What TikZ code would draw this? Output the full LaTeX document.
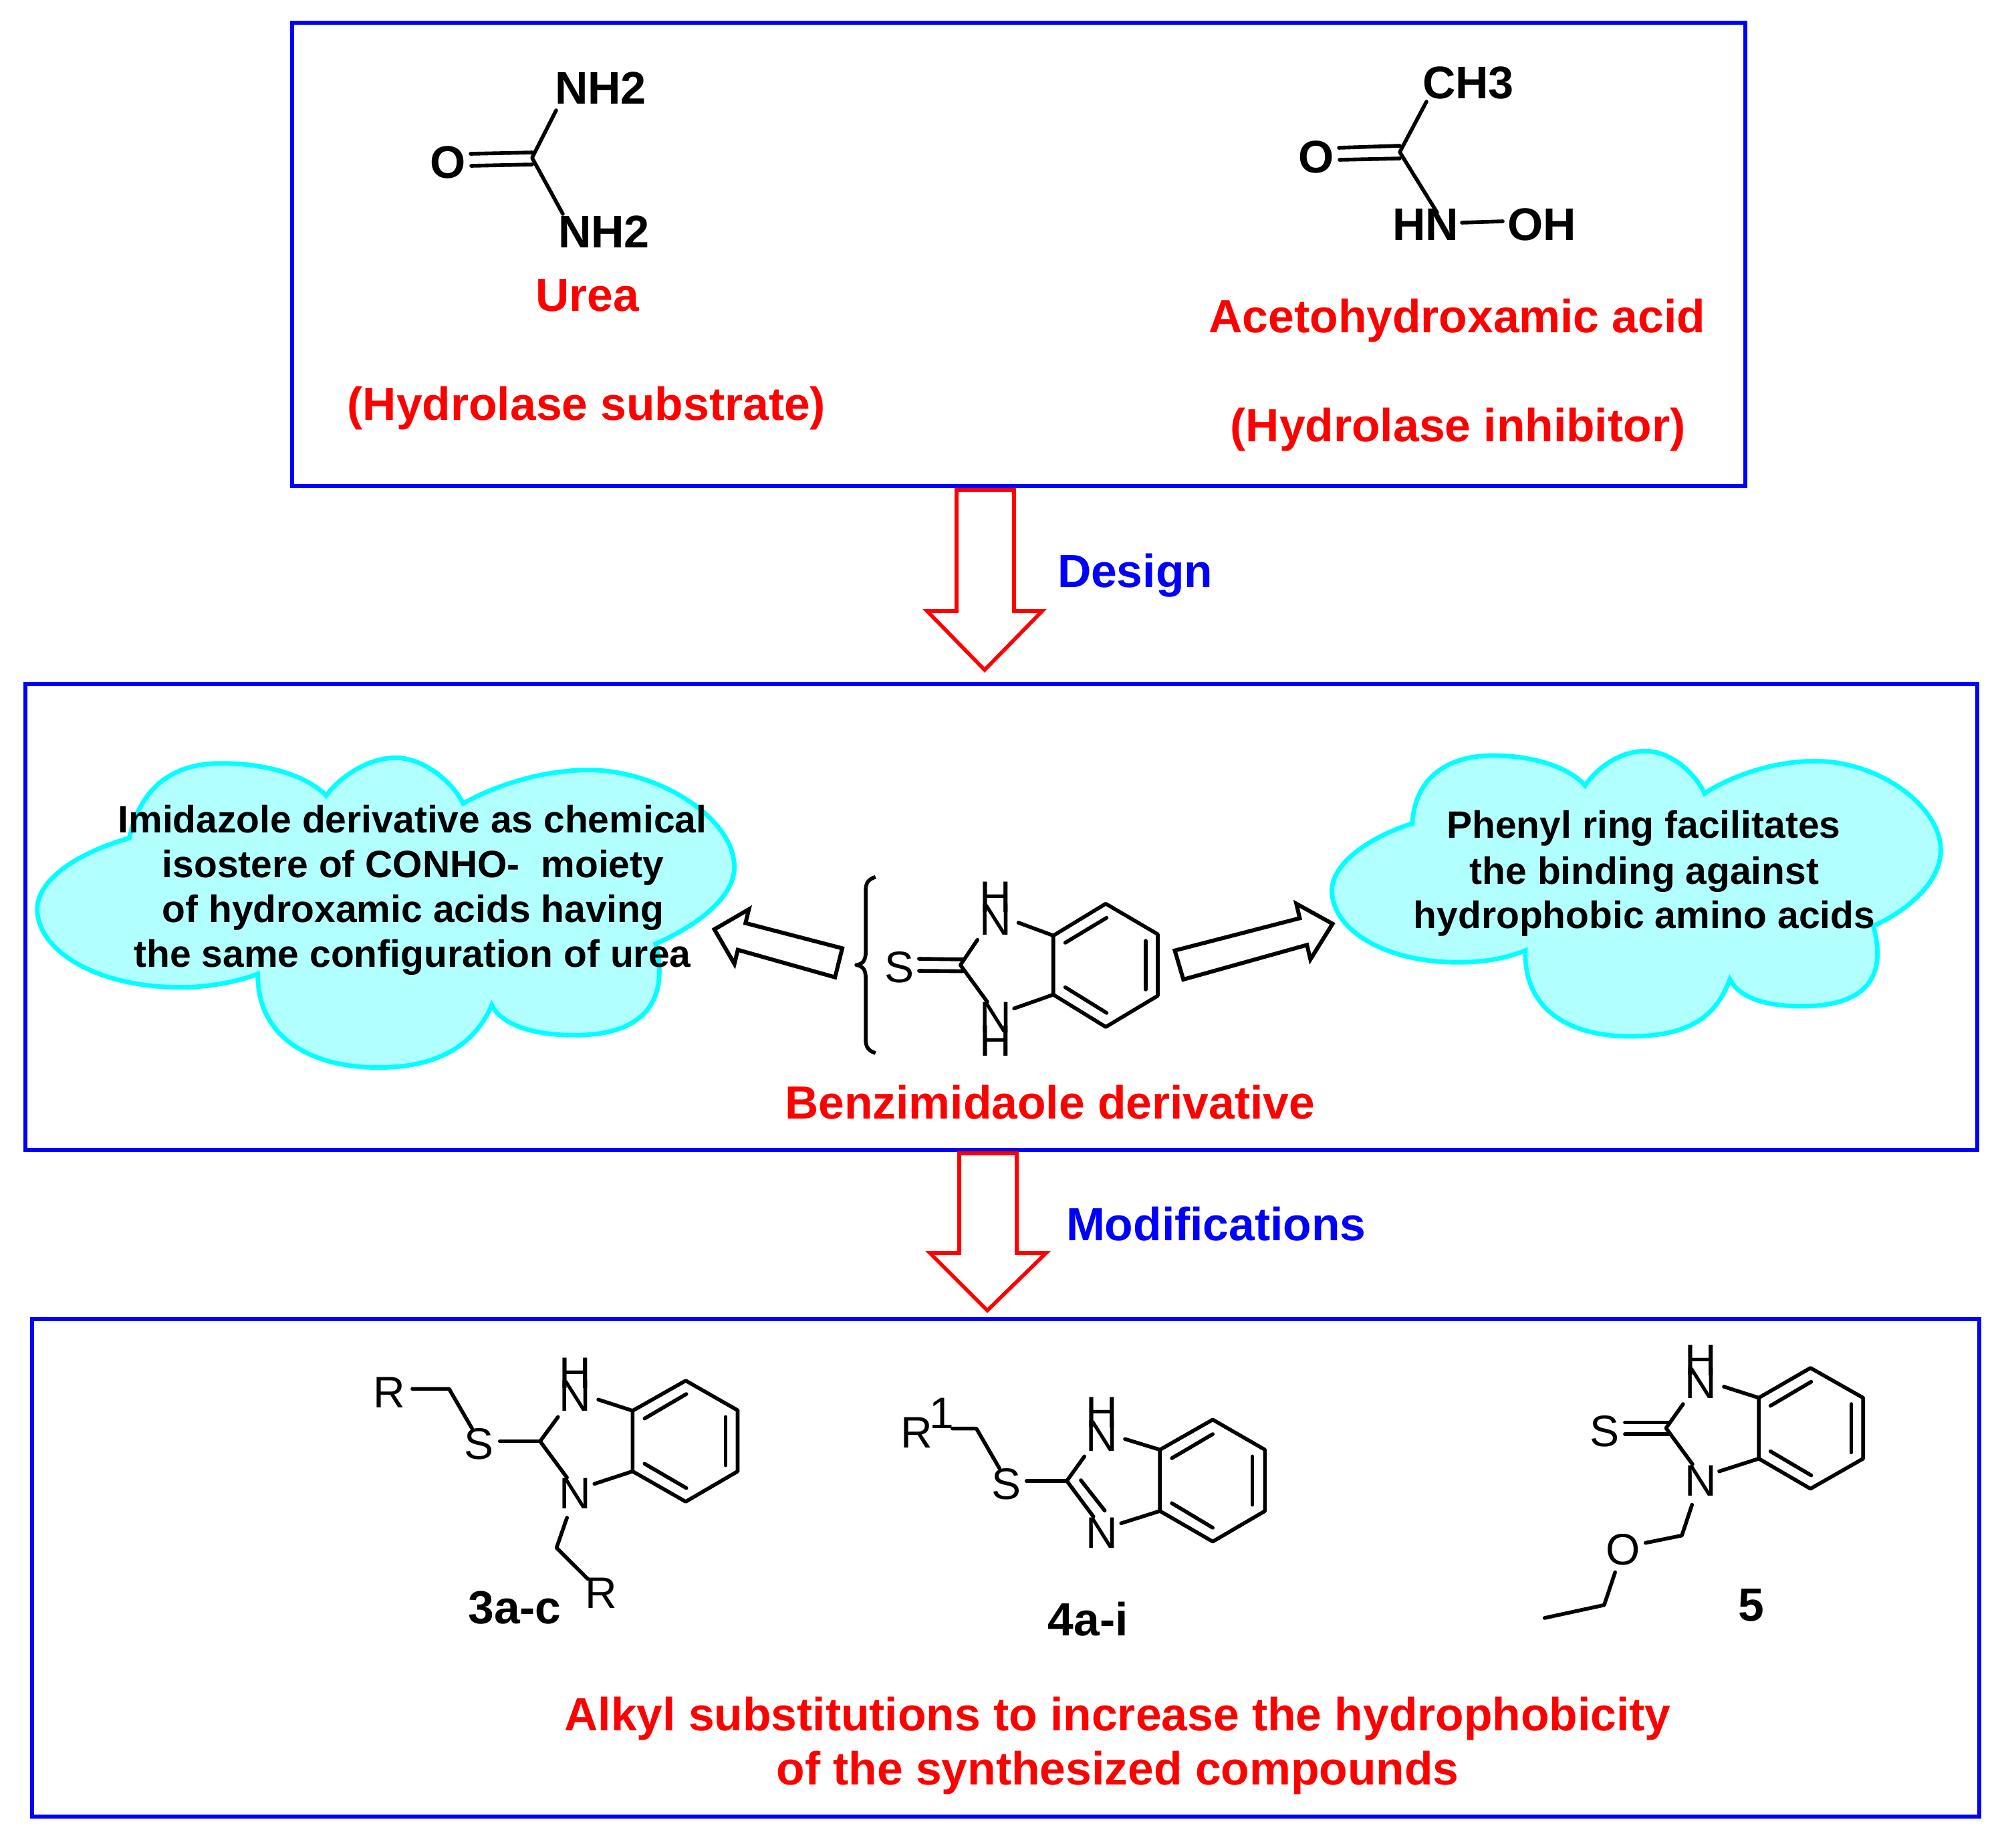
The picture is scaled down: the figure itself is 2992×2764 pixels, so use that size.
\documentclass[tikz,border=0pt]{standalone}
\usepackage{fontspec}
\setmainfont{Liberation Sans}
\definecolor{boxblue}{RGB}{0,0,255}
\definecolor{cloudfill}{RGB}{178,255,255}
\definecolor{cloudline}{RGB}{0,255,255}
\tikzset{
  box/.style={draw=boxblue,line width=1.5pt,inner sep=0pt,outer sep=0pt},
  bigarrow/.style={draw=red,fill=white,line width=1.4pt,line join=miter},
  hollow/.style={draw=black,fill=white,line width=1.5pt,line join=miter},
  cloud/.style={draw=cloudline,fill=cloudfill,line width=1.7pt,line join=miter},
  bond/.style={draw=black,line width=1.4pt,line cap=round,line join=round},
  atom/.style={inner sep=0pt,outer sep=0pt,anchor=base,font=\fontsize{16.5}{18}\selectfont},
  batom/.style={inner sep=0pt,outer sep=0pt,anchor=base west,font=\fontsize{17.1}{20}\selectfont\bfseries},
  big/.style={inner sep=0pt,outer sep=0pt,anchor=base,font=\fontsize{17.4}{20}\selectfont\bfseries},
  redt/.style={big,text=red},
  bluet/.style={inner sep=0pt,outer sep=0pt,anchor=base west,font=\fontsize{17.4}{20}\selectfont\bfseries,text=blue},
  cloudt/.style={inner sep=0pt,outer sep=0pt,anchor=base,font=\fontsize{14.25}{16}\selectfont\bfseries},
}
\begin{document}
\begin{tikzpicture}[x=0.25pt,y=-0.25pt]
\useasboundingbox (0,0) rectangle (2992,2764);
% boxes
\node[box,minimum width=543.5pt,minimum height=173.25pt] (b1) at (1524,380.5) {};
\node[box,minimum width=730pt,minimum height=174.25pt] (b2) at (1498,1371.5) {};
\node[box,minimum width=728.25pt,minimum height=186pt] (b3) at (1504.5,2345) {};
% red arrows
\draw[bigarrow] (1431,733) -- (1517,733) -- (1517,914) -- (1559,914) -- (1473,1002) -- (1387,914) -- (1431,914) -- cycle;
\draw[bigarrow] (1435,1725) -- (1521,1725) -- (1521,1874) -- (1565,1874) -- (1477,1960) -- (1391,1874) -- (1435,1874) -- cycle;
\node[bluet] (design) at (1582,878) {Design};
\node[bluet] (modif) at (1595,1855) {Modifications};
% urea
\path coordinate (uc) at (796,236) coordinate (un1) at (832,165) coordinate (un2) at (842,320)
  coordinate (uo1) at (704,230) coordinate (uo1c) at (796,228) coordinate (uo2) at (705,248) coordinate (uo2c) at (796,246);
\draw[bond] (un1) -- (uc) -- (un2);
\draw[bond] (uo1) -- (uo1c);
\draw[bond] (uo2) -- (uo2c);
\node[batom] (unh2a) at (830,155) {NH2};
\node[batom] (unh2b) at (835,370) {NH2};
\node[batom] (uo) at (643,266) {O};
\node[redt] (urea) at (879,465) {Urea};
\node[redt] (ureab) at (877.5,628) {(Hydrolase substrate)};
% acetohydroxamic acid
\path coordinate (ac) at (2094,227.5) coordinate (ach) at (2134,152) coordinate (an) at (2150,318)
  coordinate (ao1) at (2003,221) coordinate (ao1c) at (2094,218) coordinate (ao2) at (2004,239) coordinate (ao2c) at (2094,237)
  coordinate (ano) at (2187,333) coordinate (aon) at (2248,331);
\draw[bond] (ach) -- (ac) -- (an);
\draw[bond] (ao1) -- (ao1c);
\draw[bond] (ao2) -- (ao2c);
\draw[bond] (ano) -- (aon);
\node[batom] (ach3) at (2128,147) {CH3};
\node[batom] (ao) at (1942,258) {O};
\node[batom] (ahn) at (2083,359) {HN};
\node[batom] (aoh) at (2255,359) {OH};
\node[redt] (aha) at (2180,497) {Acetohydroxamic acid};
\node[redt] (ahb) at (2181,660) {(Hydrolase inhibitor)};
% left cloud
\begin{scope}[shift={(20,1100)},xscale=0.7143,yscale=0.3333]
\draw[cloud] (243,460) .. controls (265,240) and (330,125) .. (435,125)
 .. controls (540,125) and (620,190) .. (655,270)
 .. controls (690,170) and (750,100) .. (800,100)
 .. controls (860,100) and (920,210) .. (942,305)
 .. controls (1000,235) and (1100,155) .. (1205,155)
 .. controls (1350,155) and (1510,370) .. (1510,590)
 .. controls (1510,720) and (1440,845) .. (1345,935)
 .. controls (1365,1100) and (1360,1345) .. (1175,1345)
 .. controls (1080,1345) and (1020,1290) .. (1002,1210)
 .. controls (970,1370) and (900,1490) .. (765,1490)
 .. controls (620,1490) and (510,1350) .. (512,1070)
 .. controls (470,1105) and (410,1130) .. (350,1130)
 .. controls (170,1130) and (50,960) .. (50,780)
 .. controls (50,650) and (130,530) .. (243,460) -- cycle;
\end{scope}
\node[cloudt] (cl1) at (617,1245) {Imidazole derivative as chemical};
\node[cloudt] (cl2) at (618,1312) {isostere of CONHO-~~moiety};
\node[cloudt] (cl3) at (618,1379) {of hydroxamic acids having};
\node[cloudt] (cl4) at (617,1446) {the same configuration of urea};
% right cloud
\begin{scope}[shift={(1960,1100)},xscale=0.6506,yscale=0.3333]
\draw[cloud] (235,395) .. controls (240,200) and (310,90) .. (420,90)
 .. controls (520,90) and (600,150) .. (632,225)
 .. controls (665,130) and (720,70) .. (770,70)
 .. controls (830,70) and (885,170) .. (907,260)
 .. controls (960,190) and (1060,115) .. (1160,115)
 .. controls (1310,115) and (1450,320) .. (1450,515)
 .. controls (1450,640) and (1390,770) .. (1295,855)
 .. controls (1315,1000) and (1320,1215) .. (1130,1215)
 .. controls (1040,1215) and (985,1170) .. (965,1095)
 .. controls (935,1250) and (880,1350) .. (735,1350)
 .. controls (590,1350) and (490,1220) .. (495,965)
 .. controls (450,1000) and (400,1018) .. (340,1018)
 .. controls (170,1018) and (50,870) .. (50,695)
 .. controls (50,580) and (130,460) .. (235,395) -- cycle;
\end{scope}
\node[cloudt] (cr1) at (2459,1253) {Phenyl ring facilitates};
\node[cloudt] (cr2) at (2460,1322) {the binding against};
\node[cloudt] (cr3) at (2460,1388) {hydrophobic amino acids};
% central molecule
\begin{scope}[shift={(1040,1260)},xscale=0.6378,yscale=0.3333]
\draw[hollow] (345,475) -- (118,362) -- (126,300) -- (45,390) -- (92,545) -- (100,482) -- (328,605) -- cycle;
\draw[hollow] (1125,485) -- (1418,340) -- (1410,275) -- (1495,365) -- (1443,525) -- (1435,460) -- (1145,615) -- cycle;
\draw[bond,line cap=butt] (423,155) .. controls (405,165) and (400,185) .. (400,215) -- (400,490)
  .. controls (400,525) and (395,545) .. (378,550) .. controls (395,555) and (400,575) .. (400,610)
  -- (400,885) .. controls (400,915) and (405,935) .. (423,945);
\path coordinate (a1) at (840,418) coordinate (a2) at (963,275) coordinate (a3) at (1085,412)
  coordinate (a4) at (1085,688) coordinate (a5) at (963,828) coordinate (a6) at (840,683)
  coordinate (ai1) at (868,450) coordinate (ai2) at (965,338) coordinate (ai3) at (1057,442)
  coordinate (ai4) at (1057,660) coordinate (ai5) at (868,650) coordinate (ai6) at (965,765)
  coordinate (ac1) at (622,550) coordinate (an1) at (662,437) coordinate (an2) at (685,715)
  coordinate (anr1) at (758,360) coordinate (anr2) at (748,745)
  coordinate (as1) at (525,522) coordinate (as1c) at (630,525) coordinate (as2) at (525,576) coordinate (as2c) at (628,578);
\draw[bond] (a1) -- (a2) -- (a3) -- (a4) -- (a5) -- (a6) -- cycle;
\draw[bond] (ai1) -- (ai2);
\draw[bond] (ai3) -- (ai4);
\draw[bond] (ai5) -- (ai6);
\draw[bond] (an1) -- (ac1) -- (an2);
\draw[bond] (anr1) -- (a1);
\draw[bond] (anr2) -- (a6);
\draw[bond] (as1) -- (as1c);
\draw[bond] (as2) -- (as2c);
\node[atom] (aS) at (479,630) {S};
\node[atom] (aH1) at (705,312) {H};
\node[atom] (aN1) at (705,415) {N};
\node[atom] (aN2) at (705,855) {N};
\node[atom] (aH2) at (705,960) {H};
\node[redt] (benz) at (832,1240) {Benzimidaole derivative};
\end{scope}
% 3a-c
\begin{scope}[shift={(500,1960)},xscale=0.4464,yscale=0.3333]
\path coordinate (b1a) at (1000,450) coordinate (b2a) at (1178,315) coordinate (b3a) at (1352,448)
  coordinate (b4a) at (1352,722) coordinate (b5a) at (1178,858) coordinate (b6a) at (1000,722)
  coordinate (bi1) at (1040,485) coordinate (bi2) at (1180,375) coordinate (bi3) at (1312,478)
  coordinate (bi4) at (1312,695) coordinate (bi5) at (1040,688) coordinate (bi6) at (1180,797)
  coordinate (bc) at (690,587) coordinate (bn1) at (750,478) coordinate (bn2) at (780,750)
  coordinate (bs) at (555,587) coordinate (bch) at (385,352) coordinate (br) at (262,352) coordinate (bs2) at (462,530)
  coordinate (bnr1) at (885,400) coordinate (bnr2) at (872,778)
  coordinate (bd1) at (780,930) coordinate (bd2) at (745,1065) coordinate (bd3) at (850,1205);
\draw[bond] (b1a) -- (b2a) -- (b3a) -- (b4a) -- (b5a) -- (b6a) -- cycle;
\draw[bond] (bi1) -- (bi2);
\draw[bond] (bi3) -- (bi4);
\draw[bond] (bi5) -- (bi6);
\draw[bond] (br) -- (bch) -- (bs2);
\draw[bond] (bs) -- (bc);
\draw[bond] (bn1) -- (bc) -- (bn2);
\draw[bond] (bnr1) -- (b1a);
\draw[bond] (bnr2) -- (b6a);
\draw[bond] (bd1) -- (bd2) -- (bd3);
\node[atom] (bR1) at (185,437) {R};
\node[atom] (bS) at (486,668) {S};
\node[atom] (bH) at (808,350) {H};
\node[atom] (bN1) at (808,450) {N};
\node[atom] (bN2) at (808,890) {N};
\node[atom] (bR2) at (894,1338) {R};
\node[big] (l3) at (605,1405) {3a-c};
\end{scope}
% 4a-i
\begin{scope}[shift={(1300,2040)},xscale=0.4464,yscale=0.3333]
\path coordinate (c1a) at (975,385) coordinate (c2a) at (1152,250) coordinate (c3a) at (1327,385)
  coordinate (c4a) at (1327,660) coordinate (c5a) at (1152,797) coordinate (c6a) at (975,660)
  coordinate (ci1) at (1015,423) coordinate (ci2) at (1152,315) coordinate (ci3) at (1285,415)
  coordinate (ci4) at (1285,632) coordinate (ci5) at (1015,625) coordinate (ci6) at (1152,735)
  coordinate (cc) at (663,525) coordinate (cn1) at (722,415) coordinate (cn2) at (752,685)
  coordinate (cd1) at (710,522) coordinate (cd2) at (790,658)
  coordinate (cs) at (528,525) coordinate (cch) at (360,290) coordinate (cr) at (280,290) coordinate (cs2) at (437,468)
  coordinate (cnr1) at (858,337) coordinate (cnr2) at (845,715);
\draw[bond] (c1a) -- (c2a) -- (c3a) -- (c4a) -- (c5a) -- (c6a) -- cycle;
\draw[bond] (ci1) -- (ci2);
\draw[bond] (ci3) -- (ci4);
\draw[bond] (ci5) -- (ci6);
\draw[bond] (cr) -- (cch) -- (cs2);
\draw[bond] (cs) -- (cc);
\draw[bond] (cn1) -- (cc) -- (cn2);
\draw[bond] (cd1) -- (cd2);
\draw[bond] (cnr1) -- (c1a);
\draw[bond] (cnr2) -- (c6a);
\node[atom] (cR) at (159,375) {R};
\node[atom] (c1t) at (243,290) {1};
\node[atom] (cS) at (460,607) {S};
\node[atom] (cH) at (780,287) {H};
\node[atom] (cN1) at (780,390) {N};
\node[atom] (cN2) at (780,828) {N};
\node[big] (l4) at (734,1220) {4a-i};
\end{scope}
% 5
\begin{scope}[shift={(2260,1960)},xscale=0.37,yscale=0.3333]
\path coordinate (d1a) at (1003,392) coordinate (d2a) at (1212,258) coordinate (d3a) at (1425,392)
  coordinate (d4a) at (1425,665) coordinate (d5a) at (1212,800) coordinate (d6a) at (1003,665)
  coordinate (di1) at (1050,428) coordinate (di2) at (1215,320) coordinate (di3) at (1377,420)
  coordinate (di4) at (1377,637) coordinate (di5) at (1050,632) coordinate (di6) at (1215,740)
  coordinate (dc) at (628,528) coordinate (dn1) at (697,420) coordinate (dn2) at (735,690)
  coordinate (ds1) at (462,502) coordinate (ds1c) at (640,502) coordinate (ds2) at (462,555) coordinate (ds2c) at (640,555)
  coordinate (dnr1) at (862,342) coordinate (dnr2) at (843,722)
  coordinate (de1) at (733,872) coordinate (de2) at (692,1010) coordinate (de3) at (545,1043)
  coordinate (de4) at (422,1175) coordinate (de5) at (378,1322) coordinate (de6) at (137,1380);
\draw[bond] (d1a) -- (d2a) -- (d3a) -- (d4a) -- (d5a) -- (d6a) -- cycle;
\draw[bond] (di1) -- (di2);
\draw[bond] (di3) -- (di4);
\draw[bond] (di5) -- (di6);
\draw[bond] (dn1) -- (dc) -- (dn2);
\draw[bond] (ds1) -- (ds1c);
\draw[bond] (ds2) -- (ds2c);
\draw[bond] (dnr1) -- (d1a);
\draw[bond] (dnr2) -- (d6a);
\draw[bond] (de1) -- (de2) -- (de3);
\draw[bond] (de4) -- (de5) -- (de6);
\node[atom] (dS) at (381,612) {S};
\node[atom] (dH) at (768,293) {H};
\node[atom] (dN1) at (768,393) {N};
\node[atom] (dN2) at (768,832) {N};
\node[atom] (dO) at (454,1143) {O};
\node[big] (l5) at (972,1395) {5};
\end{scope}
% bottom text
\node[redt] (alk1) at (1672,2588) {Alkyl substitutions to increase the hydrophobicity};
\node[redt] (alk2) at (1672,2669) {of the synthesized compounds};
\end{tikzpicture}
\end{document}
